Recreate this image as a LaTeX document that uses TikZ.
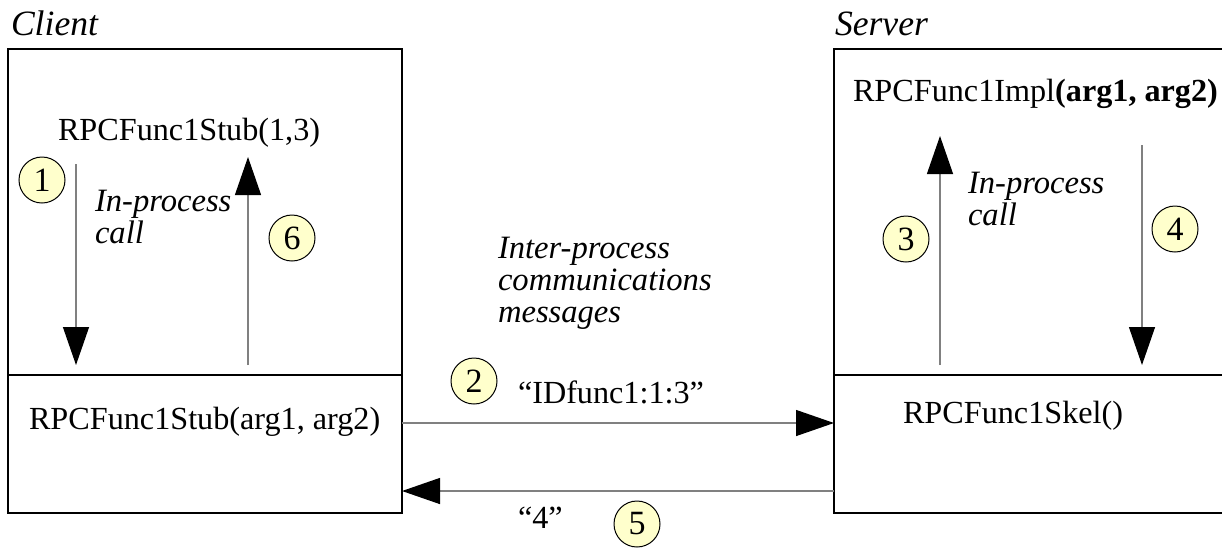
\documentclass[tikz,border=0pt]{standalone}
\usepackage{fontspec}
\setmainfont{Liberation Serif}
\usetikzlibrary{arrows.meta}
\definecolor{numfill}{HTML}{FFFFCC}
\definecolor{arrgray}{HTML}{808080}
\begin{document}
\begin{tikzpicture}[x=0.5pt,y=-0.5pt,
  every node/.style={inner sep=0pt,outer sep=0pt,font=\fontsize{16.1}{16}\selectfont},
  box/.style={draw=black,line width=0.55pt,anchor=north west},
  arr/.style={draw=arrgray,line width=0.65pt,-{Triangle[length=19pt,width=13pt,color=black]}},
  num/.style={circle,draw=black,line width=0.5pt,fill=numfill,minimum size=23pt,font=\fontsize{17}{16}\selectfont},
  lbl/.style={anchor=base west},
  ital/.style={anchor=base west,align=left,font=\fontsize{16.3}{16}\selectfont\itshape},
  title/.style={anchor=base west,font=\fontsize{17.8}{18}\selectfont\itshape}]
\useasboundingbox (0,0) rectangle (1222,548);
% boxes
\node[box,minimum width=197pt,minimum height=163pt] (ct) at (8,49) {};
\node[box,minimum width=197pt,minimum height=69pt] (cb) at (8,375) {};
\node[box,minimum width=196pt,minimum height=163pt] (st) at (834,49) {};
\node[box,minimum width=196pt,minimum height=69pt] (sb) at (834,375) {};
% titles
\node[title] (client) at (11,35) {Client};
\node[title] (server) at (835,35) {Server};
% texts
\node[lbl] (stub13) at (58,140) {RPCFunc1Stub(1,3)};
\node[lbl] (stubargs) at (29,429) {RPCFunc1Stub(arg1, arg2)};
\node[lbl] (impl) at (853,101) {RPCFunc1Impl\textbf{(arg1, arg2)}};
\node[lbl] (skel) at (903,423) {RPCFunc1Skel()};
\node[lbl] (msg1) at (518,403) {“IDfunc1:1:3”};
\node[lbl] (msg2) at (518,528) {“4”};
\node[ital] (ipl) at (95,243) {In-process\\call};
\node[ital] (ipr) at (968,225) {In-process\\call};
\node[ital] (ipc) at (498,322) {Inter-process\\communications\\messages};
% step numbers
\node[num] (n1) at (42,180) {1};
\node[num] (n2) at (474,381) {2};
\node[num] (n3) at (906,239) {3};
\node[num] (n4) at (1175,229) {4};
\node[num] (n5) at (637,524) {5};
\node[num] (n6) at (292,238) {6};
% arrow end points
\coordinate (a1s) at (76,164);  \coordinate (a1e) at (76,365);
\coordinate (a6s) at (248,365); \coordinate (a6e) at (248,157);
\coordinate (a3s) at (940,365); \coordinate (a3e) at (940,136);
\coordinate (a4s) at (1142,145);\coordinate (a4e) at (1142,365);
\coordinate (a2s) at (402,423); \coordinate (a2e) at (834,423);
\coordinate (a5s) at (834,491); \coordinate (a5e) at (402,491);
\draw[arr] (a1s) -- (a1e);
\draw[arr] (a6s) -- (a6e);
\draw[arr] (a3s) -- (a3e);
\draw[arr] (a4s) -- (a4e);
\draw[arr] (a2s) -- (a2e);
\draw[arr] (a5s) -- (a5e);
\end{tikzpicture}
\end{document}
